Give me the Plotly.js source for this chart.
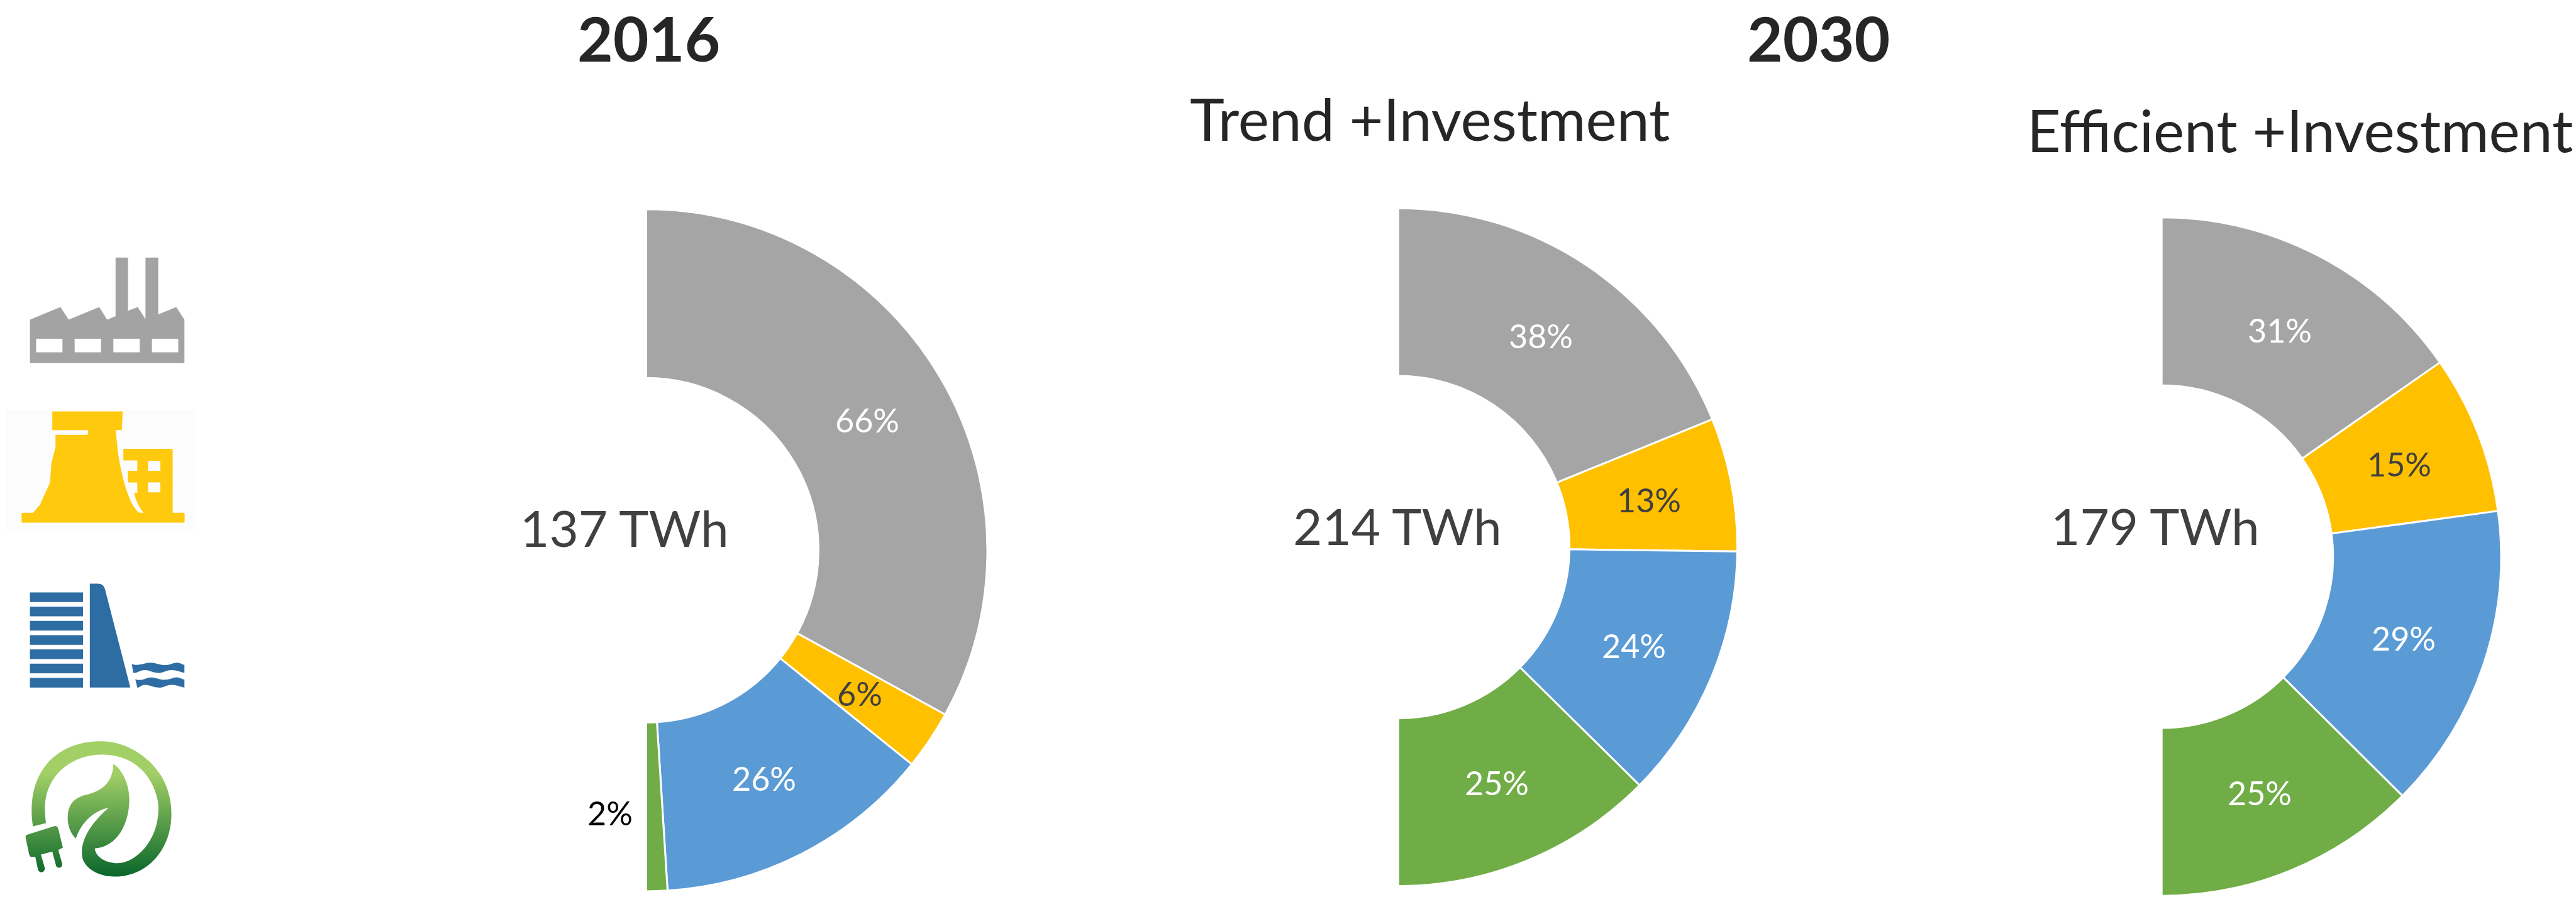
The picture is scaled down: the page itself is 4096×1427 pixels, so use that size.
<!DOCTYPE html>
<html><head><meta charset="utf-8">
<script src="https://cdn.plot.ly/plotly-3.0.1.min.js"></script>
<style>html,body{margin:0;padding:0;background:#fff;overflow:hidden}</style>
</head><body><div id="chart" style="width:4096px;height:1427px"></div>
<script>
// ---- data ----
const sources = ['Fossil', 'Nuclear', 'Hydro', 'Renewable'];
const shares2016 = [66, 5.6, 26.4, 2];
const sharesTrend = [37.7, 12.7, 24.4, 25.2];
const sharesEfficient = [30.6, 15.1, 29.2, 25.1];
const totalLabels = ['137 TWh', '214 TWh', '179 TWh'];
const yearTitles = ['2016', '2030'];
const scenarioTitles = ['Trend +Investment', 'Efficient +Investment'];
const colors = ['#a5a5a5', '#ffc000', '#5b9bd5', '#70ad47'];
const labelColors2016 = ['#ffffff', '#404040', '#ffffff', '#000000'];
const labelColorsOther = ['#ffffff', '#404040', '#ffffff', '#ffffff'];

// ---- layout constants (in the 1568-wide preview's pixels) ----
const W = 4096, H = 1427, S = W / 1568;
const px = x => x * S / W, py = y => 1 - y * S / H;
const geo = [
  {cx: 393.3, cy: 335.1, r: 207.7, shares: shares2016, lc: labelColors2016, tx: 380, ty: 321},
  {cx: 851.1, cy: 333.2, r: 206.4, shares: sharesTrend, lc: labelColorsOther, tx: 850.5, ty: 320},
  {cx: 1315.8, cy: 339, r: 206.6, shares: sharesEfficient, lc: labelColorsOther, tx: 1312, ty: 320}
];
const HOLE = 0.505;

const traces = geo.map(g => {
  const total = g.shares.reduce((a, b) => a + b, 0);
  return {
    type: 'pie', sort: false, direction: 'clockwise', rotation: 0, hole: HOLE,
    labels: sources.concat(['']), values: g.shares.concat([total]),
    marker: {colors: colors.concat(['rgba(0,0,0,0)']),
             line: {color: '#ffffff', width: [3, 3, 3, 3, 0]}},
    textinfo: 'none', hoverinfo: 'skip', showlegend: false,
    domain: {x: [px(g.cx - g.r), px(g.cx + g.r)], y: [py(g.cy + g.r), py(g.cy - g.r)]}
  };
});

const note = (text, x, y, size, color, bold) => ({
  text: bold ? '<b>' + text + '</b>' : text, x: px(x), y: py(y), xref: 'paper', yref: 'paper',
  showarrow: false, xanchor: 'center', yanchor: 'middle',
  font: {family: 'Lato, "Open Sans", sans-serif', size: size, color: color}
});

const annotations = [
  note(yearTitles[0], 395, 23, 98, '#262626', true),
  note(yearTitles[1], 1107, 23, 98, '#262626', true),
  note(scenarioTitles[0], 870.5, 72, 93, '#262626'),
  note(scenarioTitles[1], 1400, 79, 93, '#262626')
];
geo.forEach((g, i) => {
  annotations.push(note(totalLabels[i], g.tx, g.ty, 80, '#404040'));
  let cum = 0;
  const total = g.shares.reduce((a, b) => a + b, 0);
  g.shares.forEach((v, k) => {
    const ang = (cum + v / 2) / total * Math.PI;
    cum += v;
    const rm = g.r * (1 + HOLE) / 2;
    let x = g.cx + rm * Math.sin(ang), y = g.cy - rm * Math.cos(ang);
    if (v < 4) { x = g.cx - 22; y = 495; }
    annotations.push(note(Math.round(v) + '%', x, y, 52, g.lc[k]));
  });
});

// ---- icons ----
const rects = (xs, w, ys, h, fill) => xs.map(x => ys.map(y =>
  `<rect x="${x}" y="${y}" width="${w}" height="${h}" fill="${fill}"/>`).join('')).join('');
const topIcons = `<svg xmlns="http://www.w3.org/2000/svg" viewBox="0 0 1020 1560" width="1020" height="1560" preserveAspectRatio="none">
<path fill="#a3a3a3" d="M150 680V462L303 399L344 462L497 399L537 462L579 445V151H641V418L690 399L729 460V151H793V436L883 399L924 462V680Z"/>
${rects([181, 374, 568, 761], 132, [558], 68, '#fff')}
<rect x="30" y="915" width="950" height="600" fill="#fcfcfd"/>
<g fill="#ffc90e">
<path d="M262 922H615L610 1016H580L590 1120C610 1260 650 1400 700 1432H165L200 1390L250 1280L258 1180L278 1100V1040H440V1016H262Z"/>
<path d="M618 1110H865V1440H728C700 1410 680 1370 672 1330H688V1278H640V1220H688V1168H618Z"/>
<rect x="108" y="1430" width="817" height="50" rx="6"/>
</g>
${rects([742], 61, [1170, 1278], 50, '#fcfcfd')}
</svg>`;
const bottomIcons = `<svg xmlns="http://www.w3.org/2000/svg" viewBox="0 0 1020 1560" width="1020" height="1797" preserveAspectRatio="none">
<defs><linearGradient id="g" gradientUnits="userSpaceOnUse" x1="0" y1="1020" x2="0" y2="1470">
<stop offset="0" stop-color="#a2d067"/><stop offset="1" stop-color="#0a662a"/></linearGradient></defs>
${rects([150], 266, [234, 296, 358, 420, 482, 544, 606], 42, '#2e6da4')}
<g fill="#2e6da4">
<path d="M450 648V196H490Q520 196 526 220L653 648Z"/>
<path d="M660 546C700 556 725 540 750 540C785 540 800 552 830 550C860 548 870 538 890 540C905 542 915 548 924 550V584C900 580 885 572 860 572C830 572 820 586 790 584C760 582 750 572 725 572C700 572 690 586 668 584Z"/>
<path d="M678 612C715 622 730 604 755 604C785 604 800 616 830 614C860 612 870 602 890 604C905 606 915 612 924 614V648C900 644 885 636 860 636C830 636 820 650 795 648C765 646 750 636 725 636C705 636 700 650 688 648Z"/>
</g>
<g fill="url(#g)">
<path d="M165 1252C150 1170 155 1060 240 975C320 900 420 882 510 882C610 882 720 930 790 1010C850 1080 862 1160 858 1220C850 1330 780 1410 700 1445C640 1470 590 1472 560 1470C490 1468 410 1430 410 1370C408 1290 480 1220 545 1170C470 1185 410 1230 380 1305C350 1280 335 1240 340 1200C345 1150 380 1125 430 1115C500 1100 565 1070 568 980C620 1010 650 1080 648 1140C645 1240 590 1340 475 1348C480 1390 540 1415 600 1412C680 1405 790 1320 794 1180C795 1090 720 940 510 940C350 940 220 1040 225 1180C226 1200 228 1220 230 1238Z"/>
<path d="M130 1290L275 1250Q288 1250 292 1262L315 1345L292 1355L312 1415Q312 1432 295 1432Q282 1432 280 1420L262 1362L205 1375L225 1435Q222 1452 207 1452Q195 1452 190 1440L177 1385L155 1385Q148 1382 145 1370L128 1300Z"/>
</g></svg>`;
const uri = s => 'data:image/svg+xml;charset=utf-8,' + encodeURIComponent(s);
const k = 4096 / 4302; // full reference pixels -> window pixels
const img = (svg, x, y, w, h) => ({
  source: uri(svg), xref: 'paper', yref: 'paper', x: x * k / W, y: 1 - y * k / H,
  sizex: w * k / W, sizey: h * k / H, xanchor: 'left', yanchor: 'top', sizing: 'stretch', layer: 'above'
});

Plotly.newPlot('chart', traces, {
  width: W, height: H, margin: {l: 0, r: 0, t: 0, b: 0, pad: 0},
  paper_bgcolor: '#ffffff', plot_bgcolor: '#ffffff', showlegend: false,
  annotations: annotations,
  images: [img(topIcons, 0, 380, 340, 520), img(bottomIcons, 0, 900, 340, 599)]
}, {displayModeBar: false, responsive: false});
</script></body></html>
